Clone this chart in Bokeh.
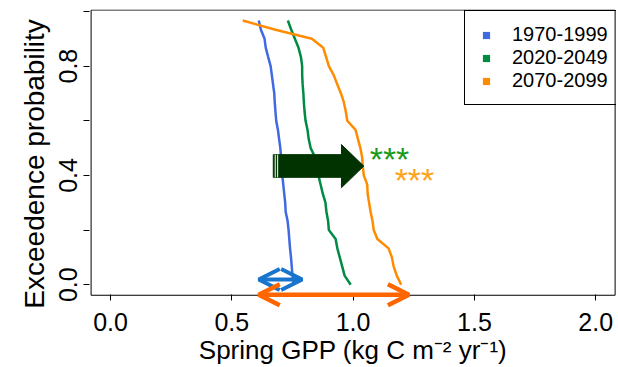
from bokeh.plotting import figure
from bokeh.models import (Range1d, FixedTicker, Legend, LegendItem, Arrow, OpenHead, Label,
                          PrintfTickFormatter)
from bokeh.embed import file_html
from bokeh.resources import INLINE

FONT = "Liberation Sans"

# exceedance probability levels (30 years per period)
prob = [0.000, 0.033, 0.067, 0.100, 0.133, 0.167, 0.200, 0.233, 0.267, 0.300,
        0.333, 0.367, 0.400, 0.433, 0.467, 0.500, 0.533, 0.567, 0.600, 0.633,
        0.667, 0.700, 0.733, 0.767, 0.800, 0.833, 0.867, 0.900, 0.933, 0.967]

gpp_1970_1999 = [0.755, 0.750, 0.747, 0.744, 0.740, 0.737, 0.734, 0.730, 0.722, 0.720,
                 0.716, 0.712, 0.708, 0.705, 0.703, 0.700, 0.695, 0.690, 0.683, 0.680,
                 0.677, 0.675, 0.670, 0.665, 0.660, 0.650, 0.640, 0.635, 0.620, 0.611]
gpp_2020_2049 = [0.990, 0.965, 0.955, 0.945, 0.935, 0.928, 0.900, 0.897, 0.890, 0.886,
                 0.875, 0.866, 0.857, 0.850, 0.843, 0.825, 0.817, 0.812, 0.804, 0.800,
                 0.797, 0.795, 0.792, 0.790, 0.790, 0.785, 0.775, 0.760, 0.745, 0.731]
gpp_2070_2099 = [1.198, 1.180, 1.167, 1.160, 1.146, 1.100, 1.085, 1.080, 1.072, 1.066,
                 1.060, 1.058, 1.044, 1.040, 1.037, 1.030, 1.020, 1.010, 0.976, 0.970,
                 0.962, 0.950, 0.935, 0.920, 0.900, 0.889, 0.877, 0.830, 0.680, 0.545]

periods = ["1970-1999", "2020-2049", "2070-2099"]
series = [gpp_1970_1999, gpp_2020_2049, gpp_2070_2099]
colors = ["#4169E1", "#008B45", "#FF8C00"]

x_ticks = [0.0, 0.5, 1.0, 1.5, 2.0]
y_ticks_labelled = [0.0, 0.4, 0.8]
y_ticks_unlabelled = [0.2, 0.6, 1.0]

# plot box (R "usr" limits: data range padded by 4 %)
box_x = [-0.08, 2.08]
box_y = [-0.0387, 1.0054]

# annotations
shift_arrow_x = [0.671, 0.952, 1.044]              # tail, head base, tip
shift_arrow_y = [0.355, 0.393, 0.434, 0.476, 0.513]  # head bottom, body bottom, mid, body top, head top
shift_arrow_color = "#003300"
range_1970 = [0.611, 0.790, 0.019]    # x start, x end, y
range_2070 = [0.611, 1.230, -0.037]
sig_2020 = [1.150, 0.480]
sig_2070 = [1.253, 0.400]

p = figure(width=618, height=367,
           x_range=Range1d(-0.0866, 2.0857), y_range=Range1d(-0.0945, 1.0073),
           output_backend="svg", toolbar_location=None,
           min_border_left=89, min_border_right=2, min_border_top=9, min_border_bottom=55)
p.grid.visible = False
p.outline_line_color = None
p.background_fill_color = "white"
p.border_fill_color = "white"

for ax in p.axis:
    ax.axis_line_color = None
    ax.major_tick_line_color = "black"
    ax.minor_tick_line_color = "black"
    ax.major_label_text_font = FONT
    ax.axis_label_text_font = FONT
    ax.axis_label_text_font_style = "normal"
    ax.major_label_text_color = "black"
    ax.axis_label_text_color = "black"

# x axis sits at the bottom of the (extended) frame; ticks drawn up at the box edge
p.xaxis.ticker = FixedTicker(ticks=x_ticks)
p.xaxis.formatter = PrintfTickFormatter(format="%.1f")
p.xaxis.major_tick_in = 16
p.xaxis.major_tick_out = -10
p.xaxis.minor_tick_in = 0
p.xaxis.minor_tick_out = -10
p.xaxis.minor_tick_line_color = None
p.xaxis.major_label_text_font_size = "25px"
p.xaxis.major_label_standoff = 2
p.xaxis.axis_label = "Spring GPP (kg C m\u207b\u00b2 yr\u207b\u00b9)"
p.xaxis.axis_label_text_font_size = "26px"
p.xaxis.axis_label_standoff = 1

p.yaxis.ticker = FixedTicker(ticks=y_ticks_labelled, minor_ticks=y_ticks_unlabelled)
p.yaxis.formatter = PrintfTickFormatter(format="%.1f")
p.yaxis.major_tick_in = 0
p.yaxis.major_tick_out = 6
p.yaxis.minor_tick_in = 0
p.yaxis.minor_tick_out = 6
p.yaxis.major_label_text_font_size = "25px"
p.yaxis.major_label_orientation = "vertical"
p.yaxis.major_label_standoff = 6
p.yaxis.axis_label = "Exceedence  probability"
p.yaxis.axis_label_text_font_size = "28px"
p.yaxis.axis_label_standoff = 7

# plot box
p.quad(left=[box_x[0]], right=[box_x[1]], bottom=[box_y[0]], top=[box_y[1]],
       fill_color=None, line_color="black", line_width=1)

# distribution curves
for vals, c in zip(series, colors):
    p.line(vals, prob, line_color=c, line_width=2.5)

# shift arrow
xs = [shift_arrow_x[0], shift_arrow_x[1], shift_arrow_x[1], shift_arrow_x[2],
      shift_arrow_x[1], shift_arrow_x[1], shift_arrow_x[0]]
ys = [shift_arrow_y[3], shift_arrow_y[3], shift_arrow_y[4], shift_arrow_y[2],
      shift_arrow_y[0], shift_arrow_y[1], shift_arrow_y[1]]
p.patch(xs, ys, fill_color=shift_arrow_color, line_color=shift_arrow_color, line_width=1)
p.segment(x0=[shift_arrow_x[0] + 0.008, shift_arrow_x[0] + 0.018],
          y0=[shift_arrow_y[1]] * 2,
          x1=[shift_arrow_x[0] + 0.008, shift_arrow_x[0] + 0.018],
          y1=[shift_arrow_y[3]] * 2, line_color="white", line_width=1)

# range arrows
for rng, col, lw in [(range_1970, "#1874CD", 4), (range_2070, "#FF6600", 4.5)]:
    p.add_layout(Arrow(x_start=rng[0], y_start=rng[2], x_end=rng[1], y_end=rng[2],
                       line_color=col, line_width=lw,
                       start=OpenHead(size=21, line_color=col, line_width=lw),
                       end=OpenHead(size=21, line_color=col, line_width=lw)))

# significance stars
for pos, col in [(sig_2020, "#1A9A1A"), (sig_2070, "#FFA31A")]:
    p.add_layout(Label(x=pos[0], y=pos[1], text="***", text_align="center",
                       text_baseline="alphabetic", y_offset=-5,
                       text_font=FONT, text_font_size="34px", text_font_style="normal",
                       text_color=col))

# legend
nan = float("nan")
items = []
for lab, c in zip(periods, colors):
    r = p.scatter([nan], [nan], marker="square", size=8, fill_color=c, line_color=None)
    items.append(LegendItem(label=lab, renderers=[r]))
legend = Legend(items=items, location=(375, 205), margin=0, padding=12, spacing=0,
                glyph_width=18, glyph_height=20, label_height=20, label_standoff=17,
                label_text_font=FONT, label_text_font_size="20px", label_text_color="black",
                border_line_color="black", border_line_width=1, border_line_alpha=1.0,
                background_fill_alpha=0.0)
p.add_layout(legend)

open("out.html", "w").write(file_html(p, INLINE))
